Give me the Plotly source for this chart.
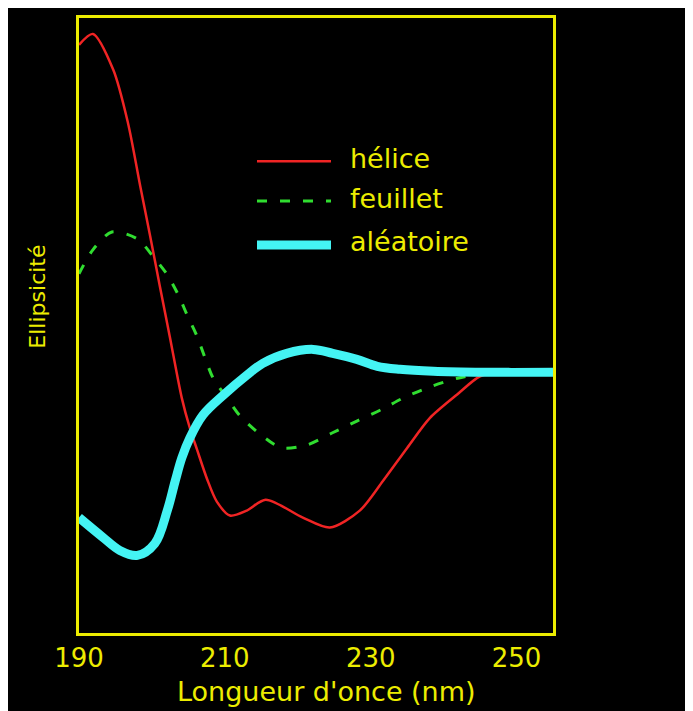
import plotly.graph_objects as go

# Wavelength (nm) and ellipticity (arbitrary units)
helice_x = [190.0, 191.9, 194.7, 196.7, 198.4, 199.7, 201.1, 202.5, 204.1, 205.2, 206.2,
            207.6, 208.9, 210.7, 213.0, 215.6, 220.7, 224.4, 228.5, 231.7, 235.0, 238.1,
            241.9, 245.0, 247.8, 255.0]
helice_y = [32.9, 34.0, 30.4, 25.1, 18.7, 13.9, 8.6, 3.4, -2.6, -5.6, -7.8,
            -10.8, -13.0, -14.4, -13.9, -12.8, -14.6, -15.6, -13.9, -10.9, -7.6, -4.6,
            -2.2, -0.4, 0.0, 0.0]

feuillet_x = [190.0, 191.9, 194.5, 198.0, 200.2, 202.1, 203.6, 204.8, 206.2, 207.3, 208.4,
              210.4, 212.1, 214.8, 217.8, 221.3, 224.7, 228.1, 231.6, 234.7, 238.4, 241.9,
              245.7, 255.0]
feuillet_y = [9.9, 12.3, 14.1, 13.4, 11.6, 9.8, 7.8, 5.8, 3.6, 1.4, -0.6,
              -2.7, -4.4, -6.2, -7.6, -7.3, -6.1, -4.9, -3.7, -2.5, -1.4, -0.6,
              -0.1, 0.0]

aleatoire_x = [190.0, 193.3, 195.6, 198.0, 200.4, 202.1, 203.2, 204.1, 205.2, 207.0, 209.8,
               213.0, 215.2, 218.5, 222.1, 224.8, 228.1, 230.9, 234.0, 238.6, 245.4, 255.0]
aleatoire_y = [-14.6, -16.6, -17.9, -18.4, -17.2, -13.9, -10.9, -8.6, -6.6, -4.3, -2.3,
               -0.3, 0.9, 1.9, 2.3, 1.9, 1.3, 0.6, 0.3, 0.1, 0.0, 0.0]

tick_vals = [190, 210, 230, 250]
tick_text = ["190", "210", "230", "250"]
series_names = ["hélice", "feuillet", "aléatoire"]

YELLOW = "#ecec00"
RED = "#f02424"
GREEN = "#30dd30"
CYAN = "#44f4f4"
FONT = "DejaVu Sans"
DASH = "10px,13px"

fig = go.Figure()
fig.add_trace(go.Scatter(x=feuillet_x, y=feuillet_y, mode="lines", name=series_names[1],
                         line=dict(color=GREEN, width=3, dash=DASH, shape="spline", smoothing=0.8)))
fig.add_trace(go.Scatter(x=helice_x, y=helice_y, mode="lines", name=series_names[0],
                         line=dict(color=RED, width=2.5, shape="spline", smoothing=0.8)))
fig.add_trace(go.Scatter(x=aleatoire_x, y=aleatoire_y, mode="lines", name=series_names[2],
                         line=dict(color=CYAN, width=9, shape="spline", smoothing=1.0)))

OFF = 8  # page body margin
W, H = 685, 703
L, R, T, B = 71, 140, 7, 78
pw, ph = W - L - R, H - T - B


def px(xp):
    return (xp - OFF - L) / pw


def py(yp):
    return (H - B - (yp - OFF)) / ph


shapes = []
annotations = []
# manual legend
legend_rows = [(159, RED, 2.5, "solid"), (199, GREEN, 3, DASH), (243, CYAN, 9, "solid")]
for name, (yy, col, wd, dsh) in zip(series_names, legend_rows):
    shapes.append(dict(type="line", xref="paper", yref="paper", x0=px(257), x1=px(331),
                       y0=py(yy), y1=py(yy), line=dict(color=col, width=wd, dash=dsh)))
    annotations.append(dict(xref="paper", yref="paper", x=px(348), y=py(yy - 3), text=name,
                            showarrow=False, xanchor="left", yanchor="middle",
                            font=dict(family=FONT, size=27, color=YELLOW)))

annotations.append(dict(xref="paper", yref="paper", x=px(326), y=py(692), text="Longueur d'once (nm)",
                        showarrow=False, xanchor="center", yanchor="middle",
                        font=dict(family=FONT, size=27, color=YELLOW)))
annotations.append(dict(xref="paper", yref="paper", x=px(38), y=py(295), text="Ellipsicité",
                        showarrow=False, xanchor="center", yanchor="middle", textangle=-90,
                        font=dict(family=FONT, size=22, color=YELLOW)))

fig.update_layout(
    width=W, height=H,
    margin=dict(l=L, r=R, t=T, b=B),
    paper_bgcolor="black", plot_bgcolor="black",
    showlegend=False,
    shapes=shapes, annotations=annotations,
    xaxis=dict(range=[190, 255], tickvals=tick_vals, ticktext=tick_text, showgrid=False,
               zeroline=False, showline=True, mirror=True, linecolor=YELLOW, linewidth=3,
               ticks="", ticklabelstandoff=0,
               tickfont=dict(family=FONT, size=26, color=YELLOW)),
    yaxis=dict(range=[-26.2, 35.6], showticklabels=False, showgrid=False, zeroline=False,
               showline=True, mirror=True, linecolor=YELLOW, linewidth=3, ticks=""),
)

fig.write_html("out.html")
